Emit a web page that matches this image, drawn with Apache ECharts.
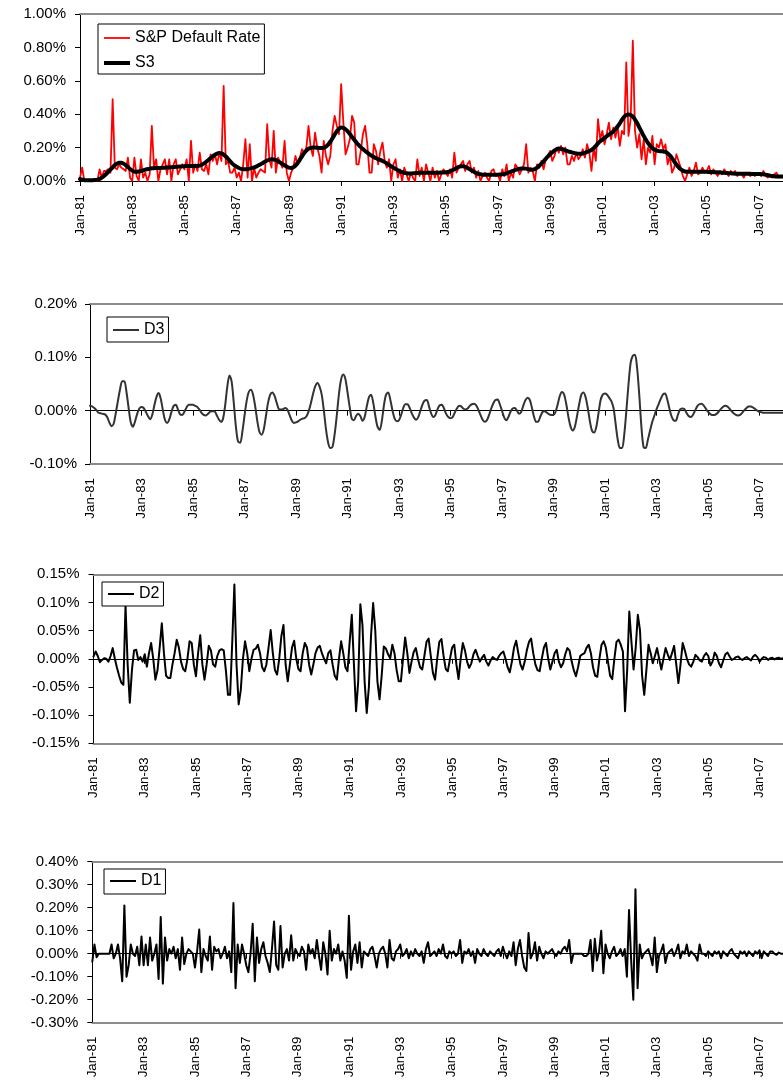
<!DOCTYPE html>
<html>
<head>
<meta charset="utf-8">
<script src="https://cdn.jsdelivr.net/npm/echarts@6/dist/echarts.min.js"></script>
<style>
html,body{margin:0;padding:0;background:#fff;}
#chart{width:783px;height:1085px;}
</style>
</head>
<body>
<div id="chart"></div>
<script>
// ---- DATA (monthly, Jan-81 .. Dec-07, values in %) ----
const monthNames = ['Jan','Feb','Mar','Apr','May','Jun','Jul','Aug','Sep','Oct','Nov','Dec'];
const firstYear = 1981, lastYear = 2007;

const spDefaultRate = [
 0.02,0.08,0.00,0.00,0.00,0.00,0.00,0.00,0.00,0.07,0.02,0.06, // 1981
 0.06,0.07,0.05,0.49,0.08,0.07,0.10,0.08,0.07,0.06,0.14,0.02, // 1982
 0.00,0.14,0.03,0.00,0.13,0.02,0.05,0.00,0.04,0.33,0.08,0.13, // 1983
 0.00,0.07,0.10,0.13,0.04,0.13,0.00,0.10,0.13,0.04,0.07,0.10, // 1984
 0.07,0.13,0.00,0.24,0.05,0.10,0.06,0.17,0.07,0.06,0.10,0.04, // 1985
 0.16,0.12,0.16,0.10,0.17,0.12,0.57,0.10,0.12,0.05,0.05,0.08, // 1986
 0.02,0.05,0.00,0.10,0.25,0.02,0.22,0.00,0.08,0.02,0.05,0.07, // 1987
 0.06,0.05,0.34,0.13,0.08,0.30,0.05,0.14,0.11,0.08,0.24,0.05, // 1988
 0.00,0.05,0.08,0.15,0.10,0.14,0.19,0.17,0.20,0.33,0.20,0.15, // 1989
 0.29,0.20,0.15,0.05,0.24,0.15,0.10,0.15,0.30,0.39,0.33,0.28, // 1990
 0.58,0.35,0.16,0.20,0.25,0.39,0.35,0.10,0.10,0.18,0.28,0.33, // 1991
 0.22,0.05,0.05,0.22,0.18,0.10,0.18,0.23,0.12,0.08,0.13,0.00, // 1992
 0.10,0.13,0.02,0.07,0.00,0.08,0.04,0.00,0.05,0.02,0.00,0.13, // 1993
 0.03,0.08,0.00,0.10,0.05,0.00,0.08,0.02,0.06,0.00,0.04,0.07, // 1994
 0.05,0.03,0.07,0.02,0.17,0.05,0.08,0.10,0.12,0.06,0.10,0.12, // 1995
 0.05,0.08,0.02,0.06,0.00,0.03,0.05,0.02,0.00,0.06,0.07,0.03, // 1996
 0.04,0.00,0.07,0.03,0.10,0.00,0.05,0.02,0.10,0.08,0.04,0.07, // 1997
 0.10,0.22,0.05,0.08,0.06,0.00,0.10,0.08,0.12,0.07,0.13,0.15, // 1998
 0.18,0.12,0.15,0.20,0.17,0.21,0.16,0.20,0.10,0.10,0.15,0.12, // 1999
 0.17,0.13,0.15,0.19,0.14,0.22,0.17,0.06,0.20,0.12,0.37,0.25, // 2000
 0.30,0.22,0.28,0.35,0.25,0.32,0.26,0.33,0.21,0.30,0.28,0.71, // 2001
 0.27,0.37,0.84,0.30,0.20,0.28,0.13,0.25,0.10,0.20,0.17,0.27, // 2002
 0.10,0.22,0.20,0.25,0.19,0.22,0.10,0.15,0.05,0.08,0.16,0.12, // 2003
 0.08,0.03,0.00,0.04,0.08,0.03,0.06,0.11,0.04,0.05,0.08,0.05, // 2004
 0.06,0.09,0.04,0.07,0.05,0.03,0.06,0.04,0.07,0.05,0.03,0.06, // 2005
 0.04,0.06,0.03,0.05,0.04,0.02,0.05,0.04,0.03,0.05,0.03,0.04, // 2006
 0.04,0.03,0.06,0.03,0.02,0.03,0.02,0.04,0.05,0.02,0.03,0.02  // 2007
];

const s3 = [
 0.012,0.008,0.005,0.004,0.004,0.004,0.005,0.006,0.008,0.012,0.020,0.030,
 0.042,0.055,0.068,0.082,0.095,0.104,0.110,0.110,0.104,0.095,0.084,0.072,
 0.062,0.056,0.055,0.057,0.060,0.064,0.068,0.071,0.074,0.076,0.077,0.078,
 0.078,0.078,0.079,0.080,0.081,0.082,0.083,0.084,0.085,0.086,0.087,0.088,
 0.089,0.090,0.090,0.090,0.090,0.090,0.090,0.092,0.097,0.105,0.115,0.126,
 0.137,0.148,0.157,0.164,0.167,0.165,0.158,0.147,0.133,0.118,0.104,0.093,
 0.085,0.078,0.073,0.071,0.071,0.072,0.074,0.077,0.081,0.087,0.094,0.100,
 0.108,0.116,0.123,0.128,0.130,0.129,0.125,0.118,0.110,0.102,0.094,0.086,
 0.080,0.078,0.082,0.092,0.108,0.127,0.148,0.167,0.182,0.193,0.198,0.200,
 0.200,0.199,0.198,0.198,0.200,0.206,0.218,0.235,0.256,0.278,0.298,0.313,
 0.320,0.318,0.310,0.297,0.281,0.264,0.247,0.231,0.216,0.203,0.191,0.180,
 0.170,0.160,0.151,0.143,0.137,0.131,0.126,0.120,0.113,0.105,0.096,0.088,
 0.080,0.072,0.065,0.058,0.053,0.049,0.046,0.045,0.045,0.046,0.047,0.048,
 0.049,0.049,0.050,0.050,0.050,0.050,0.050,0.050,0.050,0.050,0.051,0.051,
 0.052,0.054,0.058,0.064,0.071,0.078,0.084,0.088,0.088,0.085,0.079,0.071,
 0.063,0.055,0.048,0.043,0.040,0.038,0.037,0.037,0.037,0.037,0.038,0.038,
 0.038,0.039,0.040,0.042,0.046,0.051,0.056,0.061,0.066,0.070,0.073,0.075,
 0.075,0.074,0.071,0.068,0.068,0.072,0.080,0.091,0.104,0.118,0.133,0.147,
 0.160,0.172,0.183,0.190,0.194,0.193,0.189,0.184,0.179,0.175,0.171,0.168,
 0.165,0.163,0.163,0.165,0.169,0.174,0.180,0.186,0.196,0.210,0.225,0.238,
 0.248,0.258,0.268,0.278,0.287,0.297,0.310,0.326,0.345,0.366,0.384,0.395,
 0.398,0.395,0.385,0.368,0.346,0.320,0.295,0.270,0.247,0.227,0.210,0.197,
 0.188,0.182,0.179,0.178,0.177,0.174,0.166,0.153,0.137,0.118,0.099,0.083,
 0.070,0.062,0.057,0.055,0.055,0.055,0.055,0.055,0.055,0.055,0.055,0.055,
 0.055,0.054,0.054,0.053,0.052,0.052,0.051,0.050,0.049,0.048,0.047,0.046,
 0.045,0.044,0.044,0.043,0.043,0.043,0.043,0.043,0.043,0.042,0.042,0.042,
 0.042,0.041,0.040,0.038,0.035,0.032,0.030,0.028,0.027,0.027,0.027,0.027
];

const d3 = [
 0.009,0.008,0.005,0.001,-0.004,-0.005,-0.006,-0.007,-0.012,-0.022,-0.029,-0.025,
 -0.005,0.018,0.040,0.055,0.055,0.035,0.005,-0.022,-0.030,-0.020,-0.006,0.004,
 0.007,0.005,-0.002,-0.010,-0.016,-0.008,0.010,0.026,0.033,0.022,0.000,-0.018,
 -0.023,-0.016,-0.002,0.009,0.011,0.002,-0.007,-0.008,-0.002,0.006,0.011,0.011,
 0.011,0.009,0.007,0.002,-0.004,-0.008,-0.009,-0.006,-0.002,-0.001,-0.001,-0.008,
 -0.016,-0.021,-0.015,0.010,0.045,0.066,0.055,0.015,-0.030,-0.058,-0.060,-0.040,
 -0.010,0.018,0.035,0.039,0.030,0.008,-0.020,-0.040,-0.045,-0.035,-0.010,0.015,
 0.030,0.034,0.028,0.015,0.003,0.002,0.003,0.005,0.002,-0.008,-0.018,-0.023,
 -0.022,-0.020,-0.017,-0.015,-0.014,-0.010,0.000,0.015,0.032,0.046,0.052,0.045,
 0.030,0.000,-0.035,-0.060,-0.070,-0.068,-0.045,-0.010,0.030,0.058,0.068,0.060,
 0.035,0.008,-0.015,-0.018,-0.010,-0.006,-0.010,-0.019,-0.012,0.008,0.025,0.030,
 0.015,-0.010,-0.030,-0.036,-0.020,0.010,0.030,0.034,0.020,0.000,-0.015,-0.020,
 -0.018,-0.008,0.005,0.012,0.012,0.005,-0.005,-0.013,-0.017,-0.012,0.000,0.012,
 0.019,0.020,0.008,-0.005,-0.012,-0.008,0.003,0.010,0.011,0.004,-0.006,-0.012,
 -0.014,-0.012,-0.004,0.004,0.009,0.008,0.004,0.002,0.004,0.009,0.012,0.013,
 0.010,0.002,-0.008,-0.017,-0.021,-0.018,-0.008,0.004,0.014,0.020,0.021,0.012,
 0.000,-0.012,-0.018,-0.012,-0.002,0.004,0.005,0.000,-0.006,-0.002,0.010,0.020,
 0.024,0.020,0.005,-0.012,-0.021,-0.020,-0.010,-0.002,-0.001,-0.004,-0.007,-0.008,
 -0.008,-0.002,0.012,0.028,0.035,0.030,0.012,-0.012,-0.030,-0.037,-0.030,-0.010,
 0.012,0.030,0.034,0.025,0.005,-0.020,-0.038,-0.041,-0.030,-0.005,0.020,0.030,
 0.032,0.030,0.024,0.018,0.005,-0.025,-0.055,-0.070,-0.070,-0.045,0.000,0.050,
 0.090,0.103,0.105,0.080,0.030,-0.030,-0.068,-0.070,-0.055,-0.038,-0.022,-0.010,
 0.002,0.012,0.022,0.030,0.032,0.022,0.005,-0.010,-0.018,-0.019,-0.008,0.002,
 0.004,0.003,-0.004,-0.010,-0.012,-0.008,0.000,0.008,0.012,0.013,0.010,0.004,
 -0.002,-0.006,-0.008,-0.008,-0.006,-0.002,0.003,0.007,0.009,0.008,0.004,-0.001,
 -0.005,-0.008,-0.009,-0.008,-0.004,0.001,0.005,0.008,0.008,0.006,0.003,0.000,
 -0.002,-0.003,-0.004,-0.004,-0.004,-0.004,-0.004,-0.004,-0.004,-0.004,-0.004,-0.004
];

const d2 = [
 0.004,0.013,0.005,-0.006,-0.002,0.001,0.000,-0.005,0.005,0.019,0.000,-0.016,
 -0.030,-0.042,-0.046,0.095,-0.010,-0.078,-0.020,0.015,0.016,-0.002,0.003,-0.005,
 0.008,-0.014,0.010,0.028,0.000,-0.037,-0.020,0.020,0.063,0.010,-0.030,-0.034,
 -0.034,-0.010,0.010,0.034,0.020,-0.005,-0.018,-0.022,0.000,0.031,0.028,-0.010,
 -0.031,0.010,0.042,-0.010,-0.037,-0.010,0.023,0.015,-0.010,-0.014,0.005,0.015,
 0.017,0.015,-0.020,-0.064,-0.064,0.030,0.132,-0.010,-0.081,-0.055,0.000,0.031,
 0.010,-0.022,0.000,0.016,0.018,0.025,0.010,-0.015,-0.022,-0.010,0.020,0.051,
 0.010,-0.020,-0.028,0.000,0.040,0.060,-0.010,-0.040,-0.010,0.020,0.032,0.000,
 -0.018,-0.022,0.010,0.028,0.020,-0.010,-0.028,-0.010,0.010,0.020,0.023,0.010,
 0.000,-0.008,0.010,0.015,-0.010,-0.030,-0.037,0.000,0.031,0.010,-0.015,-0.022,
 0.030,0.078,-0.010,-0.093,-0.040,0.097,0.060,-0.040,-0.096,-0.050,0.040,0.099,
 0.050,-0.040,-0.072,-0.030,0.022,0.018,0.008,0.001,0.025,0.010,-0.020,-0.040,
 -0.040,0.000,0.038,0.010,-0.025,-0.005,0.012,0.019,0.000,-0.015,-0.019,0.005,
 0.030,0.036,0.005,-0.025,-0.037,0.000,0.030,0.035,0.005,-0.018,-0.022,0.000,
 0.020,0.025,-0.010,-0.036,0.000,0.028,0.015,-0.005,-0.016,-0.008,0.008,0.016,
 0.005,-0.005,0.002,0.007,-0.005,-0.012,-0.003,0.003,0.000,-0.002,0.005,0.010,
 0.013,0.000,-0.015,-0.024,-0.005,0.020,0.032,0.010,-0.010,-0.019,-0.005,0.015,
 0.030,0.036,0.010,-0.010,-0.020,-0.022,0.000,0.020,0.028,0.000,-0.019,-0.005,
 0.010,0.016,-0.005,-0.015,-0.008,0.008,0.019,0.015,-0.005,-0.020,-0.031,-0.015,
 0.005,0.008,0.010,0.020,0.025,0.010,-0.015,-0.030,-0.032,0.000,0.025,0.031,
 0.020,-0.005,-0.030,-0.036,0.000,0.030,0.034,0.025,0.013,-0.093,-0.020,0.084,
 0.030,-0.019,0.020,0.078,0.051,-0.030,-0.064,-0.020,0.025,0.010,-0.008,0.005,
 0.019,0.000,-0.019,0.000,0.019,0.008,-0.002,0.010,0.023,-0.010,-0.043,-0.010,
 0.028,0.015,0.000,-0.010,-0.014,-0.005,0.007,0.003,-0.003,-0.005,0.005,0.010,
 0.005,-0.012,-0.005,0.011,0.005,-0.008,-0.015,-0.003,0.008,0.011,0.004,-0.002,
 0.000,0.003,0.004,0.000,-0.002,0.001,0.003,0.000,-0.003,0.004,0.007,0.003,
 -0.005,0.000,0.003,0.002,-0.002,0.001,0.002,-0.001,0.001,0.002,0.000,0.001
];

const d1 = [
 -0.035,0.040,-0.015,0.000,0.000,0.000,0.000,0.000,0.000,0.040,-0.020,0.000,
 0.040,-0.020,-0.120,0.210,-0.100,-0.050,0.040,0.000,-0.010,0.030,-0.050,0.075,
 -0.050,0.040,-0.050,0.070,-0.030,0.000,0.040,-0.110,0.160,-0.130,0.070,-0.030,
 0.020,0.000,0.030,-0.020,0.020,-0.070,0.070,-0.045,0.000,0.020,0.010,0.000,
 -0.060,0.010,0.105,-0.080,0.020,-0.010,-0.030,0.075,-0.070,0.030,0.010,0.020,
 -0.020,0.000,0.030,-0.020,0.010,-0.080,0.220,-0.150,0.040,-0.040,0.040,0.000,
 -0.050,-0.080,0.000,0.130,-0.120,0.070,-0.040,0.020,0.050,-0.010,-0.040,-0.080,
 0.020,0.140,-0.050,-0.070,0.120,-0.060,0.000,0.020,-0.030,0.080,-0.030,0.020,
 0.000,-0.010,0.030,0.010,-0.070,0.040,0.000,0.020,-0.020,0.060,-0.010,-0.070,
 0.050,0.000,-0.090,0.100,-0.030,0.020,0.000,0.040,-0.030,0.010,-0.030,-0.105,
 0.165,-0.070,0.010,0.040,-0.040,0.050,-0.060,0.010,0.000,-0.010,0.020,0.030,
 -0.010,-0.060,0.000,0.020,0.030,0.000,-0.060,0.060,-0.020,-0.030,0.010,0.020,
 0.040,-0.010,0.000,0.020,-0.020,0.010,-0.010,0.020,0.000,-0.010,0.010,-0.040,
 0.020,0.050,-0.010,0.000,0.010,-0.010,0.020,0.000,0.040,-0.010,-0.020,0.010,
 0.000,0.010,-0.010,0.000,0.060,-0.040,0.010,0.000,0.020,-0.010,0.010,-0.040,
 0.020,0.000,-0.010,0.020,0.000,-0.010,0.010,0.000,-0.010,0.010,0.020,-0.010,
 0.030,0.000,-0.020,0.010,-0.010,0.050,-0.050,0.020,0.060,-0.010,-0.060,-0.075,
 0.090,-0.020,0.000,0.050,-0.030,0.030,0.000,-0.020,0.010,0.000,0.010,0.020,
 0.000,-0.010,0.010,0.000,0.020,0.030,0.010,0.060,-0.040,0.000,0.000,0.000,
 0.000,0.000,-0.010,-0.010,0.000,0.060,-0.075,0.065,-0.030,0.010,0.100,-0.085,
 0.040,0.000,-0.020,0.010,0.030,-0.010,0.000,0.020,-0.010,0.020,-0.100,0.190,
 -0.030,-0.200,0.280,-0.150,0.040,-0.020,0.000,0.010,0.020,-0.010,-0.050,0.070,
 -0.080,-0.010,0.010,0.040,-0.040,0.000,0.010,0.020,-0.010,0.010,0.040,-0.020,
 0.010,0.000,0.040,-0.010,0.010,0.000,-0.010,-0.030,0.040,0.000,0.000,-0.010,
 0.010,0.000,-0.010,0.010,0.000,0.010,-0.020,0.010,0.000,-0.010,0.010,0.020,
 0.000,-0.010,-0.020,0.010,0.000,0.010,-0.010,0.010,0.000,-0.010,0.010,0.000,
 0.015,-0.020,0.010,0.000,-0.010,0.010,0.010,0.000,-0.005,0.005,0.000,0.000
];

// y-axis ranges per panel [min, max, interval]
const yRanges = [[0, 1, 0.2], [-0.1, 0.2, 0.1], [-0.15, 0.15, 0.05], [-0.3, 0.4, 0.1]];

// ---- categories ----
const categories = [];
for (let y = firstYear; y <= lastYear; y++) {
  for (let m = 0; m < 12; m++) categories.push(monthNames[m] + '-' + String(y).slice(2));
}

const FONT = "'Liberation Sans', Arial, sans-serif";
const BORDER = '#8c8c8c';
const grids = [
  {left: 80,   top: 14,    width: 704, height: 167},
  {left: 90,   top: 304,   width: 705, height: 160},
  {left: 93.5, top: 574.3, width: 709, height: 169},
  {left: 92.3, top: 861.7, width: 700, height: 161}
].map(g => Object.assign(g, {show: false, containLabel: false}));

const pctFmt = v => (Math.abs(v) < 1e-9 ? '0.00' : v.toFixed(2)) + '%';
const yMargins = [14, 13, 14, 14];

const xAxes = [];
const labelAxisIdx = [];
grids.forEach((g, i) => {
  labelAxisIdx.push(xAxes.length);
  xAxes.push({
    gridIndex: i, type: 'category', data: categories, boundaryGap: false, position: 'bottom',
    axisLine: {show: true, onZero: false, lineStyle: {color: i === 0 ? '#000' : BORDER, width: i === 0 ? 1 : 2}},
    axisTick: {show: i === 0, interval: 23, length: 5, lineStyle: {color: '#000'}},
    axisLabel: {interval: 23, rotate: 90, margin: 14, fontSize: 13.3, color: '#000', fontFamily: FONT},
    splitLine: {show: false}
  });
  xAxes.push({
    gridIndex: i, type: 'category', data: categories, boundaryGap: false, position: 'top',
    axisLine: {show: true, onZero: false, lineStyle: {color: BORDER, width: 2}},
    axisTick: {show: false}, axisLabel: {show: false}, splitLine: {show: false}
  });
  if (i > 0) {
    xAxes.push({
      gridIndex: i, type: 'category', data: categories, boundaryGap: false, position: 'bottom',
      axisLine: {show: true, onZero: true, onZeroAxisIndex: i, lineStyle: {color: '#000', width: 1}},
      axisTick: {show: true, interval: 23, length: 5, lineStyle: {color: '#000'}},
      axisLabel: {show: false},
      splitLine: {show: false}
    });
  }
});

const yAxes = yRanges.map((r, i) => ({
  gridIndex: i, type: 'value', min: r[0], max: r[1], interval: r[2],
  axisLine: {show: true, lineStyle: {color: '#000', width: 1}},
  axisTick: {show: true, length: 5, lineStyle: {color: '#000'}},
  splitLine: {show: false},
  axisLabel: {formatter: pctFmt, fontSize: 15, color: '#000', fontFamily: FONT, margin: yMargins[i]}
}));

function lineSeries(name, data, panel, color, width, extra) {
  return Object.assign({
    name, type: 'line', data, xAxisIndex: labelAxisIdx[panel], yAxisIndex: panel,
    symbol: 'none', showSymbol: false, animation: false,
    lineStyle: {color, width, join: 'round', cap: 'round'},
    itemStyle: {color}
  }, extra || {});
}

const lineIcon = h => 'path://M0,0H26V' + h + 'H0Z';

const legendBase = {
  orient: 'vertical', borderColor: '#000', borderWidth: 1, backgroundColor: '#fff',
  itemWidth: 26, itemHeight: 16, itemGap: 9, symbolKeepAspect: true,
  textStyle: {fontSize: 16, color: '#000', fontFamily: FONT}, selectedMode: false
};

const option = {
  animation: false,
  backgroundColor: '#fff',
  grid: grids,
  xAxis: xAxes,
  yAxis: yAxes,
  legend: [
    Object.assign({}, legendBase, {left: 98, top: 24, padding: [6, 4, 3, 6],
      data: [{name: 'S&P Default Rate', icon: lineIcon(1.8)}, {name: 'S3', icon: lineIcon(4)}]}),
    Object.assign({}, legendBase, {left: 107, top: 317, padding: [5, 4, 4, 6],
      data: [{name: 'D3', icon: lineIcon(2)}]}),
    Object.assign({}, legendBase, {left: 102, top: 582, padding: [4, 4, 4, 6],
      data: [{name: 'D2', icon: lineIcon(2)}]}),
    Object.assign({}, legendBase, {left: 104, top: 869, padding: [4, 4, 5, 6],
      data: [{name: 'D1', icon: lineIcon(2)}]})
  ],
  series: [
    lineSeries('S&P Default Rate', spDefaultRate, 0, '#ff0000', 1.8, {z: 2}),
    lineSeries('S3', s3, 0, '#000000', 4, {z: 3, smooth: 0.3}),
    lineSeries('D3', d3, 1, '#333333', 2, {smooth: 0.3}),
    lineSeries('D2', d2, 2, '#000000', 2),
    lineSeries('D1', d1, 3, '#000000', 2)
  ]
};

const chart = echarts.init(document.getElementById('chart'), null, {renderer: 'canvas'});
chart.setOption(option);
</script>
</body>
</html>
